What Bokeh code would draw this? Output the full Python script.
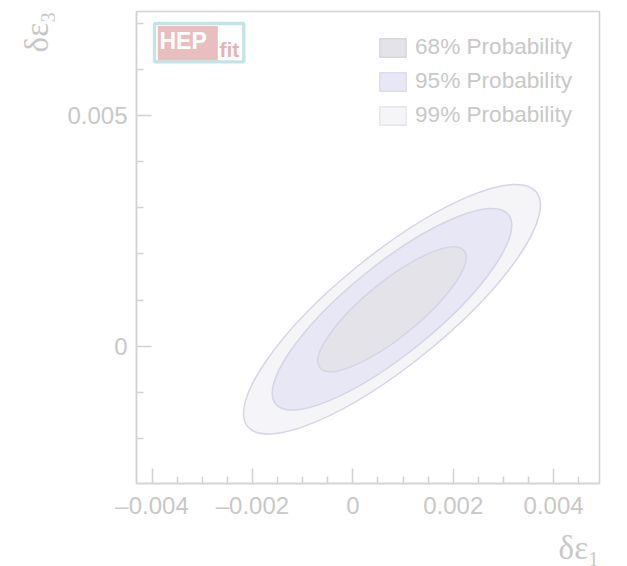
from bokeh.plotting import figure
from bokeh.models import (Range1d, FixedTicker, Legend, LegendItem, Label,
                          BoxAnnotation, ColumnDataSource, Title)
from bokeh.embed import file_html
from bokeh.resources import INLINE

# ---------------- data ----------------
levels = ["68% Probability", "95% Probability", "99% Probability"]
center_x = [0.00078, 0.00078, 0.00078]
center_y = [0.00080, 0.00080, 0.00080]
ell_width = [0.00370, 0.00598, 0.00741]     # full major axis (x units)
ell_height = [0.00120, 0.00193, 0.00239]    # full minor axis (y units)
ell_angle = [39.1, 39.1, 39.1]              # degrees
fill_colors = ["#e4e3e9", "#e7e7f6", "#f5f5f8"]
swatch_lines = ["#d9d8de", "#dcdcef", "#e5e5ea"]

x_ticks = [-0.004, -0.002, 0.0, 0.002, 0.004]
x_tick_labels = ["\u20130.004", "\u20130.002", "0", "0.002", "0.004"]
x_minor = [-0.0035, -0.003, -0.0025, -0.0015, -0.001, -0.0005,
           0.0005, 0.001, 0.0015, 0.0025, 0.003, 0.0035, 0.0045]
y_ticks = [0.0, 0.005]
y_tick_labels = ["0", "0.005"]
y_minor = [-0.002, -0.001, 0.001, 0.002, 0.003, 0.004, 0.006, 0.007]

x_lim = (-0.00431, 0.004914)
y_lim = (-0.00298, 0.00726)
x_title = "δε\u2081"
y_title = "δε\u2083"

TXT = "#c8c8c8"
AX = "#d2d2d2"
ELL_LINE = "#d5d4e6"
NAN = float("nan")

p = figure(frame_width=463, frame_height=472, output_backend="svg",
           toolbar_location=None,
           x_range=Range1d(*x_lim), y_range=Range1d(*y_lim),
           min_border_left=136, min_border_right=28,
           min_border_top=11, min_border_bottom=80)
p.background_fill_color = "white"
p.border_fill_color = "white"
p.grid.visible = False
p.outline_line_color = AX
p.outline_line_width = 1.5

for ax in (p.xaxis[0], p.yaxis[0]):
    ax.axis_line_color = AX
    ax.axis_line_width = 1.5
    ax.major_tick_line_color = AX
    ax.minor_tick_line_color = AX
    ax.major_tick_line_width = 1.5
    ax.minor_tick_line_width = 1.5
    ax.major_tick_in = 15
    ax.major_tick_out = 0
    ax.minor_tick_in = 7
    ax.minor_tick_out = 0
    ax.major_label_text_font = "Liberation Sans"
    ax.major_label_text_font_size = "24px"
    ax.major_label_text_color = TXT

p.xaxis.ticker = FixedTicker(ticks=x_ticks, minor_ticks=x_minor)
p.xaxis.major_label_overrides = {t: l for t, l in zip(x_ticks, x_tick_labels)}
p.xaxis.major_label_standoff = 8
p.yaxis.ticker = FixedTicker(ticks=y_ticks, minor_ticks=y_minor)
p.yaxis.major_label_overrides = {t: l for t, l in zip(y_ticks, y_tick_labels)}
p.yaxis.major_label_standoff = 9

# axis titles (placed at the far end of each axis)
p.add_layout(Title(text=y_title, align="right", text_font="Liberation Serif",
                   text_font_style="normal", text_font_size="33px",
                   text_color=TXT, standoff=20), "left")
p.add_layout(Title(text=x_title, align="right", text_font="Liberation Serif",
                   text_font_style="normal", text_font_size="33px",
                   text_color=TXT, standoff=13), "below")

# ellipses, outermost first
for i in [2, 1, 0]:
    src = ColumnDataSource(dict(x=[center_x[i]], y=[center_y[i]],
                                w=[ell_width[i]], h=[ell_height[i]],
                                a=[ell_angle[i]]))
    p.ellipse(x="x", y="y", width="w", height="h", angle="a", angle_units="deg",
              source=src, fill_color=fill_colors[i], line_color=ELL_LINE,
              line_width=1.5)

# legend swatches (rectangular, as in the reference); the quads hold no
# visible data, they only provide the legend glyphs
items = []
for i in range(3):
    r = p.quad(left=[NAN], right=[NAN], top=[NAN], bottom=[NAN],
               fill_color=fill_colors[i], line_color=swatch_lines[i],
               line_width=1.5)
    items.append(LegendItem(label=levels[i], renderers=[r]))

legend = Legend(items=items, location=(240, 355), glyph_width=33, glyph_height=23,
                label_standoff=6, spacing=8, padding=0, margin=0,
                border_line_alpha=0, background_fill_alpha=0,
                label_text_font="Liberation Sans", label_text_font_size="22.6px",
                label_text_color=TXT, label_height=23)
p.add_layout(legend)

# HEPfit logo
p.add_layout(BoxAnnotation(left=18, right=107.3, top=460, bottom=421.6,
                           left_units="screen", right_units="screen",
                           top_units="screen", bottom_units="screen",
                           fill_alpha=0, line_color="#c2e4e4", line_alpha=1,
                           line_width=3.3))
p.add_layout(BoxAnnotation(left=21.3, right=81.3, top=457.6, bottom=423.3,
                           left_units="screen", right_units="screen",
                           top_units="screen", bottom_units="screen",
                           fill_color="#e8bebe", fill_alpha=1, line_alpha=0))
p.add_layout(Label(x=23, y=442.6, x_units="screen", y_units="screen", text="HEP",
                   text_baseline="alphabetic",
                   text_font="Liberation Sans", text_font_style="bold",
                   text_font_size="23px", text_color="white"))
p.add_layout(Label(x=83, y=433.6, x_units="screen", y_units="screen", text="fit",
                   text_baseline="alphabetic",
                   text_font="Liberation Sans", text_font_style="bold",
                   text_font_size="21px", text_color="#e3b4b4"))

open("out.html", "w").write(file_html(p, INLINE))
